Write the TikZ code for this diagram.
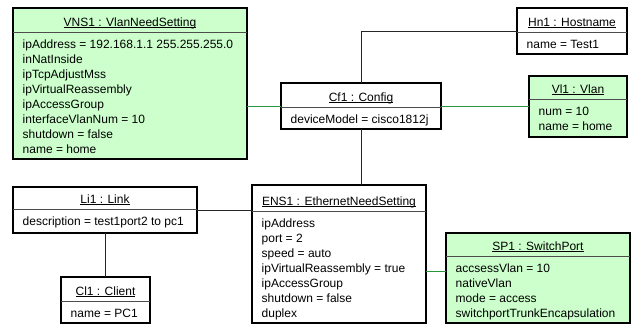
\documentclass[tikz,border=0pt]{standalone}
\usepackage{fontspec}
\setmainfont{Liberation Sans}
\usetikzlibrary{calc}
\definecolor{boxgreen}{RGB}{204,255,204}
\definecolor{linkgreen}{RGB}{40,150,60}
\tikzset{
  umlbox/.style={draw=black, line width=1.7pt, inner sep=0pt, outer sep=0pt, anchor=north west},
  divider/.style={draw=black!70, line width=0.9pt},
  titletext/.style={anchor=base, inner sep=0pt, font=\fontsize{12}{15}\selectfont},
  attrtext/.style={anchor=north west, inner sep=0pt, align=left, font=\fontsize{12}{15}\selectfont},
  link/.style={draw=black!85, line width=0.8pt},
  greenlink/.style={draw=linkgreen, line width=0.8pt}
}
\newcommand\umlobject[9]{%
  \node[umlbox, fill=#7, minimum width=#4, minimum height=#5] (#1) at (#2,#3) {};
  \draw[divider] ($(#1.north west)+(0,#6)$) -- ($(#1.north east)+(0,#6)$);
  \node[titletext] at ($(#1.north)+(0,#6-6)$) {\underline{\smash{#8}}};
  \node[attrtext] at ($(#1.north west)+(9.5,#6+7)$) {\rule{0pt}{9pt}#9};
}
\begin{document}
\begin{tikzpicture}[x=1pt,y=-1pt]
\useasboundingbox (0,0) rectangle (632,324);
\umlobject{vns}{13}{8}{234}{151}{24}{boxgreen}{VNS1 : VlanNeedSetting}{ipAddress = 192.168.1.1 255.255.255.0\\inNatInside\\ipTcpAdjustMss\\ipVirtualReassembly\\ipAccessGroup\\interfaceVlanNum = 10\\shutdown = false\\name = home}
\umlobject{hn}{517}{8}{110}{46}{24}{white}{Hn1 : Hostname}{name = Test1}
\umlobject{cf}{281}{83}{160}{46}{24}{white}{Cf1 : Config}{deviceModel = cisco1812j}
\umlobject{vl}{529}{76}{98}{61}{23}{boxgreen}{Vl1 : Vlan}{num = 10\\name = home}
\umlobject{li}{13}{187}{184}{46}{22}{white}{Li1 : Link}{description = test1port2 to pc1}
\umlobject{ens}{252}{185}{174}{138}{26}{white}{ENS1 : EthernetNeedSetting}{ipAddress\\port = 2\\speed = auto\\ipVirtualReassembly = true\\ipAccessGroup\\shutdown = false\\duplex}
\umlobject{cl}{61}{277}{89}{46}{24}{white}{Cl1 : Client}{name = PC1}
\umlobject{sp}{446}{233}{184}{90}{23}{boxgreen}{SP1 : SwitchPort}{accsessVlan = 10\\nativeVlan\\mode = access\\switchportTrunkEncapsulation}
\coordinate (spin) at ($(sp.north west)+(0,38)$);
\coordinate (vnsin) at ($(cf.west)+(0,0)$);
\draw[greenlink] (cf.west) -- (cf.west -| vns.east);
\draw[link] (cf.north) |- (hn.west);
\draw[greenlink] (cf.east) -- (cf.east -| vl.west);
\draw[link] (cf.south) -- (cf.south |- ens.north);
\draw[link] (li.east) -- (li.east -| ens.west);
\draw[link] (li.south) -- (li.south |- cl.north);
\draw[greenlink] (spin) -- (spin -| ens.east);
\end{tikzpicture}
\end{document}
